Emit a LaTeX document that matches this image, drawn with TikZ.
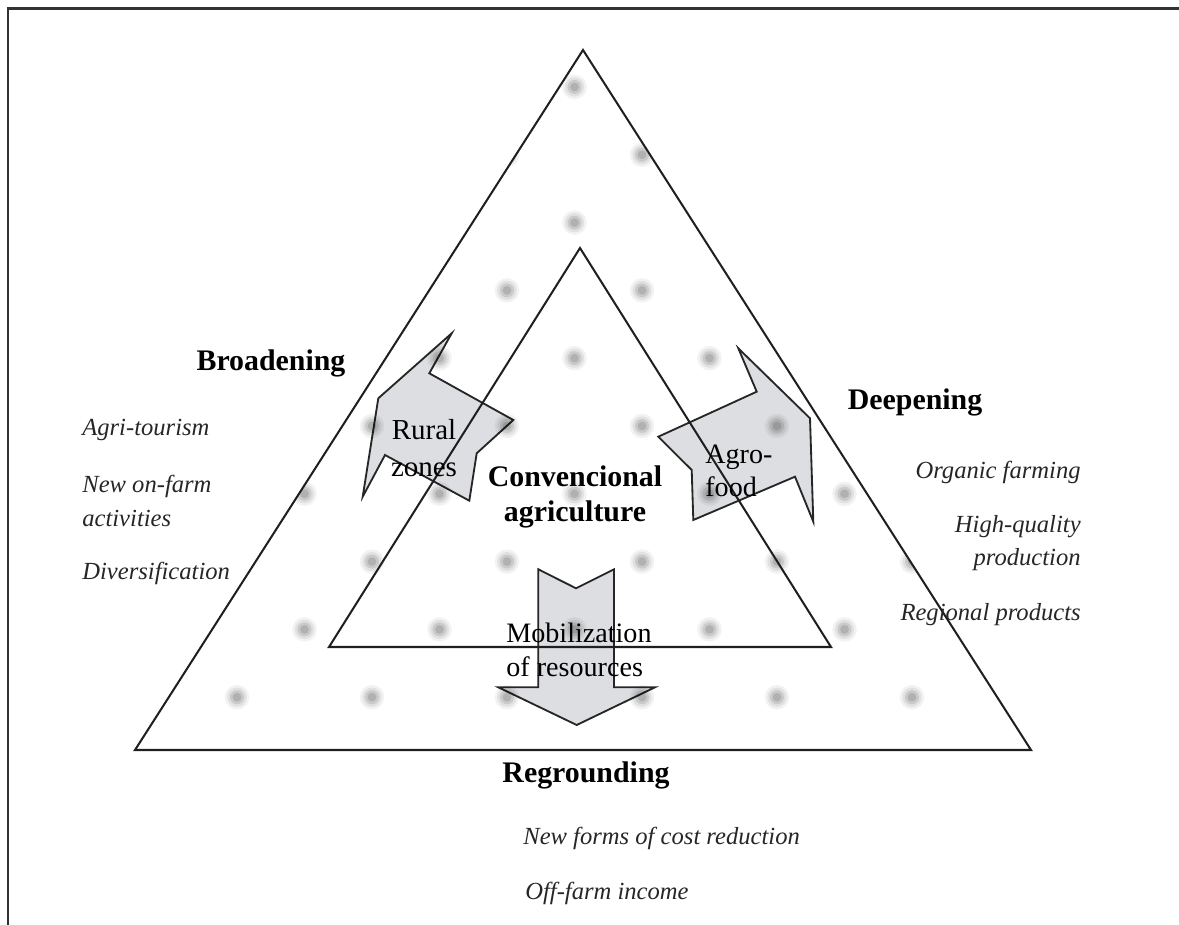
\documentclass[tikz,border=0pt]{standalone}
\usepackage{fontspec}
\setmainfont{Liberation Serif}
\definecolor{arrowgray}{RGB}{221,222,225}
\tikzset{
  tri/.style={line width=1.15pt, line join=miter, color=black!88},
  blockarrow/.style={fill=arrowgray, draw=black!85, line width=1.05pt, line join=miter},
  heading/.style={font=\fontsize{17}{20}\selectfont\bfseries, inner sep=0pt},
  item/.style={font=\fontsize{14}{19}\selectfont\itshape, inner sep=0pt, color=black!85},
  arrowtext/.style={font=\fontsize{16}{19}\selectfont, inner sep=0pt}
}
\newcommand\blurdot[1]{%
  \foreach \r/\o in {7pt/0.05,5.5pt/0.07,4pt/0.1,2.5pt/0.12}
    \fill[black, opacity=\o] #1 circle (\r);}
\begin{document}
\begin{tikzpicture}[x=0.02cm, y=-0.02cm]
  \useasboundingbox (0,0) rectangle (1179,925);
  % frame
  \draw[line width=1.7pt, black!80] (7,9) -- (1179,9);
  \draw[line width=1.1pt, black!80] (8,9) -- (8,925);

  % corners of the triangles
  \coordinate (outerTop) at (583,50);
  \coordinate (outerLeft) at (135,750);
  \coordinate (outerRight) at (1031,750);
  \coordinate (innerTop) at (580,248);
  \coordinate (innerLeft) at (329,647);
  \coordinate (innerRight) at (831,647);

  % Broadening: rural zones
  \draw[blockarrow] (451.7,333.3) -- (429.3,373.3) -- (513.3,420) -- (476.7,453.3)
    -- (469.3,500.7) -- (385,455) -- (362.7,496.7) -- (378.3,398.3) -- cycle;
  % Deepening: agro-food
  \draw[blockarrow] (738.3,348.3) -- (810,418.3) -- (813.3,521.7) -- (795,476.7)
    -- (693.3,520) -- (691.7,470) -- (658.3,436.7) -- (756.7,391.7) -- cycle;
  % Regrounding: mobilization of resources
  \draw[blockarrow] (538.3,569.3) -- (576,588.3) -- (614,569.3) -- (614,687.3)
    -- (655,687.3) -- (576.7,725) -- (498.3,687.3) -- (538.3,687.3) -- cycle;

  % background dots
  \begin{scope}
    \clip (outerTop) -- (outerLeft) -- (outerRight) -- cycle;
    \foreach \k in {0,...,9}
      \foreach \j in {0,...,6} {
        \pgfmathsetmacro\dx{237+67.5*(1-mod(\k,2))+135*\j}
        \pgfmathsetmacro\dy{87+67.8*\k}
        \blurdot{(\dx,\dy)}
      }
  \end{scope}

  % triangles
  \draw[tri] (outerTop) -- (outerLeft) -- (outerRight) -- cycle;
  \draw[tri] (innerTop) -- (innerLeft) -- (innerRight) -- cycle;

  % centre
  \node[heading, align=center] (conv) at (575,497) {Convencional\\agriculture};
  \node[arrowtext, align=center, font=\fontsize{16.5}{21}\selectfont] (rural) at (424,448) {Rural\\zones};
  \node[arrowtext, align=left, anchor=west] (agro) at (705,471) {Agro-\\food};
  \node[arrowtext, align=left, anchor=west, font=\fontsize{16}{19.5}\selectfont] (mobil) at (506,650) {Mobilization\\of resources};

  % Broadening
  \node[heading] (broad) at (271,363) {Broadening};
  \node[item, anchor=west] (agritour) at (82,430) {Agri-tourism};
  \node[item, anchor=west, align=left] (onfarm) at (82,501) {New on-farm\\activities};
  \node[item, anchor=west] (divers) at (82,573) {Diversification};

  % Deepening
  \node[heading] (deep) at (915,402) {Deepening};
  \node[item, anchor=east] (organic) at (1081,472) {Organic farming};
  \node[item, anchor=east, align=right] (quality) at (1081,543) {High-quality\\production};
  \node[item, anchor=east] (regional) at (1081,615) {Regional products};

  % Regrounding
  \node[heading] (reground) at (586,775) {Regrounding};
  \node[item, anchor=west] (cost) at (523,838) {New forms of cost reduction};
  \node[item, anchor=west] (offfarm) at (525,893) {Off-farm income};
\end{tikzpicture}
\end{document}
